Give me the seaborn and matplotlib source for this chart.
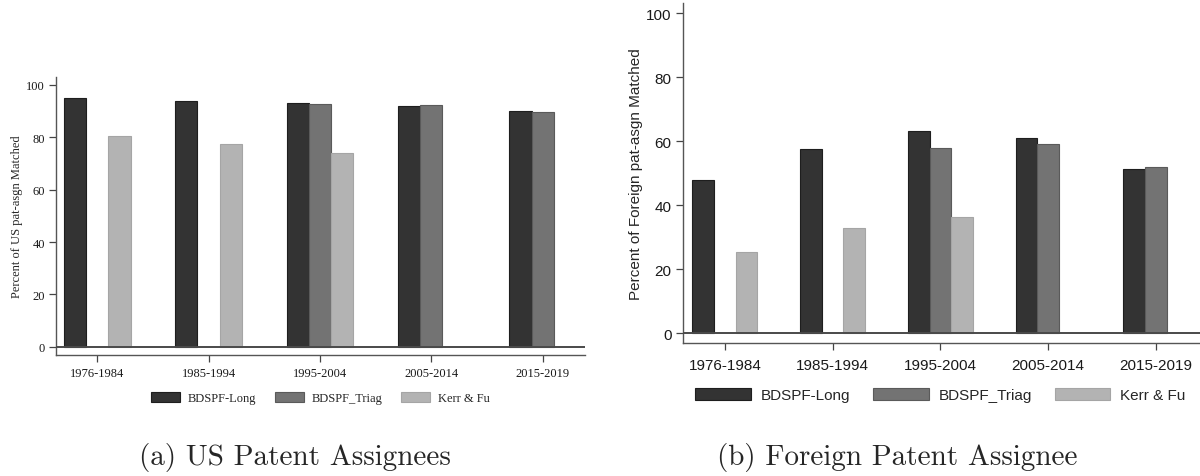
import numpy as np
import pandas as pd
import matplotlib
matplotlib.use("Agg")
import matplotlib.pyplot as plt
import seaborn as sns

periods = ["1976-1984", "1985-1994", "1995-2004", "2005-2014", "2015-2019"]
series = ["BDSPF-Long", "BDSPF_Triag", "Kerr & Fu"]

us_long = [95.0, 94.0, 93.0, 92.0, 90.0]
us_triag = [np.nan, np.nan, 92.7, 92.3, 89.5]
us_kerr = [80.5, 77.5, 74.0, np.nan, np.nan]

fr_long = [48.0, 57.5, 63.3, 61.0, 51.3]
fr_triag = [np.nan, np.nan, 57.8, 59.2, 51.8]
fr_kerr = [25.3, 32.8, 36.3, np.nan, np.nan]

colors = ["#333333", "#737373", "#b3b3b3"]
edges = ["#1e1e1e", "#5a5a5a", "#a5a5a5"]


def long_df(vals):
    rows = []
    for s, v in zip(series, vals):
        for p, x in zip(periods, v):
            rows.append({"period": p, "series": s, "value": x})
    return pd.DataFrame(rows)


sns.set_theme(style="white")

fig = plt.figure(figsize=(12, 4.77), dpi=100)

panels = [
    dict(df=long_df([us_long, us_triag, us_kerr]),
         pos=[0.0467, 0.2543, 0.4408, 0.5822],
         xlim=(-0.37, 4.38),
         font="Liberation Serif", fs=9,
         ylabel="Percent of US pat-asgn Matched",
         ylabel_pad=2, xpad=4,
         leg_center=(0.267, 0.1635),
         handlelength=2.3, handleheight=0.95),
    dict(df=long_df([fr_long, fr_triag, fr_kerr]),
         pos=[0.569, 0.2788, 0.431, 0.7118],
         xlim=(-0.39, 4.41),
         font="Liberation Sans", fs=11,
         ylabel="Percent of Foreign pat-asgn Matched",
         ylabel_pad=2, xpad=6,
         leg_center=(0.7835, 0.170),
         handlelength=3.66, handleheight=0.9),
]

for pnl in panels:
    ax = fig.add_axes(pnl["pos"])
    sns.barplot(data=pnl["df"], x="period", y="value", hue="series",
                order=periods, hue_order=series, palette=colors,
                width=0.6, ax=ax, legend=False, errorbar=None,
                saturation=1)
    for i, cont in enumerate(ax.containers):
        for bar in cont:
            bar.set_edgecolor(edges[i])
            bar.set_linewidth(0.8)
    ax.axhline(0, color="#4a4a4a", lw=1.4, zorder=3)
    ax.set_ylim(-3, 103)
    ax.set_xlim(*pnl["xlim"])
    ax.set_yticks([0, 20, 40, 60, 80, 100])
    ax.set_xlabel("")
    ax.set_ylabel(pnl["ylabel"], fontfamily=pnl["font"], fontsize=pnl["fs"],
                  labelpad=pnl["ylabel_pad"])
    for lab in ax.get_xticklabels() + ax.get_yticklabels():
        lab.set_fontfamily(pnl["font"])
        lab.set_fontsize(pnl["fs"])
        lab.set_color("#1a1a1a")
    ax.tick_params(axis="both", which="major", direction="out", length=5,
                   width=0.9, color="#444444", pad=3, left=True, bottom=True)
    ax.tick_params(axis="x", pad=pnl["xpad"])
    for s in ["top", "right"]:
        ax.spines[s].set_visible(False)
    for s in ["left", "bottom"]:
        ax.spines[s].set_color("#555555")
        ax.spines[s].set_linewidth(1.0)
    ax.set_facecolor("white")

    handles = [matplotlib.patches.Patch(facecolor=c, edgecolor=e, lw=0.8)
               for c, e in zip(colors, edges)]
    fig.legend(handles, series, loc="center",
               bbox_to_anchor=pnl["leg_center"], bbox_transform=fig.transFigure,
               ncol=3, frameon=False,
               prop={"family": pnl["font"], "size": pnl["fs"]},
               handlelength=pnl["handlelength"],
               handleheight=pnl["handleheight"],
               handletextpad=0.62, columnspacing=1.5, borderpad=0.2)

fig.text(0.246, 1 - 458 / 477, "(a) US Patent Assignees", fontfamily="cmr10",
         fontsize=21, ha="center", va="center")
fig.text(0.748, 1 - 458 / 477, "(b) Foreign Patent Assignee", fontfamily="cmr10",
         fontsize=21, ha="center", va="center")

fig.savefig("out.png", dpi=100, facecolor="white")
